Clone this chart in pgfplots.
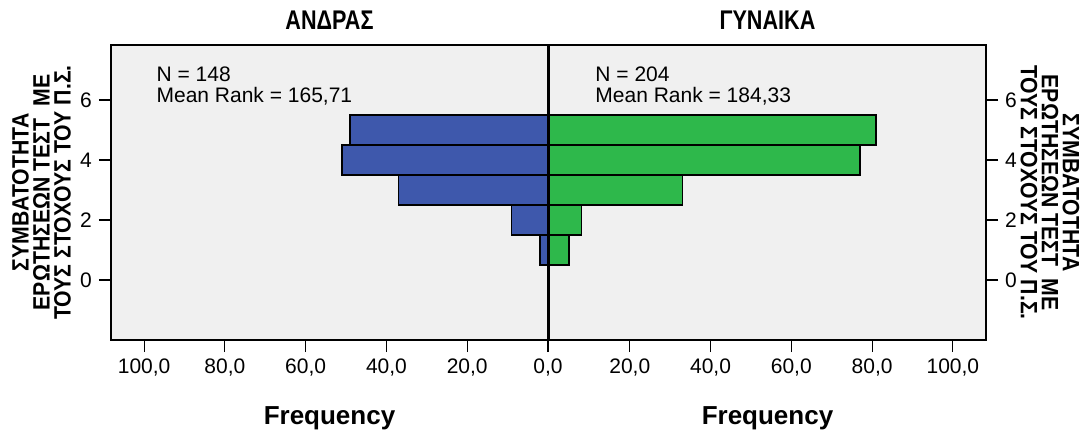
\documentclass[border=0pt]{standalone}
\usepackage{fontspec}
\setmainfont{Liberation Sans}
\newfontfamily\titlefont[FakeStretch=0.8]{Liberation Sans}
\newfontfamily\labelfont[FakeStretch=0.9]{Liberation Sans}
\usepackage{pgfplots}
\pgfplotsset{compat=1.18}
\definecolor{spssblue}{HTML}{3E58AC}
\definecolor{spssgreen}{HTML}{2EB84B}
\definecolor{panelbg}{HTML}{F0F0F0}

\pgfplotsset{pyr/.style={
    scale only axis,
    width=218.5pt, height=147.5pt,
    xmin=0, xmax=108.2, ymin=-2, ymax=7.83,
    xtick={0,20,...,100}, ytick={0,2,4,6},
    xtick pos=bottom,
    tick align=outside, major tick length=6pt,
    tick style={black, line width=0.6pt},
    axis line style={line width=0.7pt},
    axis background/.style={fill=panelbg},
    /pgf/number format/assume math mode=true,
    xticklabel={\pgfmathprintnumber[fixed,fixed zerofill,precision=1,use comma]{\tick}},
    tick label style={font=\fontsize{10.5}{12}\selectfont},
    xbar, bar width=1,
    title style={at={(0.5,1)}, anchor=center, yshift=6.5pt,
        font=\titlefont\bfseries\fontsize{13.5}{15}\selectfont},
    xlabel={Frequency},
    xlabel style={at={(0.5,0)}, anchor=center, yshift=-39pt,
        font=\bfseries\fontsize{13}{15}\selectfont},
    clip=false,
}}

\begin{document}
\begin{tikzpicture}
\path[use as bounding box] (0,0) rectangle (544.5pt,-220pt);

% men
\begin{axis}[pyr, at={(55.5pt,-170pt)}, anchor=south west,
    x dir=reverse, ytick pos=left, title={ΑΝΔΡΑΣ}]
\addplot[fill=spssblue, draw=black, line width=0.7pt]
    coordinates {(49,5) (51,4) (37,3) (9,2) (2,1)};
\node[anchor=north west, align=left, inner sep=0pt,
    font=\fontsize{10.5}{10.5}\selectfont] at (axis cs:97,7.13)
    {N = 148\\Mean Rank = 165,71};
\end{axis}

% women (0,0 label comes from the men's axis)
\begin{axis}[pyr, at={(274.5pt,-170pt)}, anchor=south west,
    xtick={20,40,...,100},
    ytick pos=right, yticklabel pos=right, title={ΓΥΝΑΙΚΑ}]
\addplot[fill=spssgreen, draw=black, line width=0.7pt]
    coordinates {(81,5) (77,4) (33,3) (8,2) (5,1)};
\node[anchor=north west, align=left, inner sep=0pt,
    font=\fontsize{10.5}{10.5}\selectfont] at (axis cs:11.4,7.13)
    {N = 204\\Mean Rank = 184,33};
\end{axis}

\node[rotate=90, align=center, font=\labelfont\bfseries\fontsize{11.8}{10.5}\selectfont]
    at (20.8pt,-96.25pt) {ΣΥΜΒΑΤΟΤΗΤΑ\\ΕΡΩΤΗΣΕΩΝ ΤΕΣΤ \ ΜΕ\\ΤΟΥΣ ΣΤΟΧΟΥΣ ΤΟΥ Π.Σ.};
\node[rotate=-90, align=center, font=\labelfont\bfseries\fontsize{11.8}{10.5}\selectfont]
    at (525pt,-96.25pt) {ΣΥΜΒΑΤΟΤΗΤΑ\\ΕΡΩΤΗΣΕΩΝ ΤΕΣΤ \ ΜΕ\\ΤΟΥΣ ΣΤΟΧΟΥΣ ΤΟΥ Π.Σ.};
\end{tikzpicture}
\end{document}
